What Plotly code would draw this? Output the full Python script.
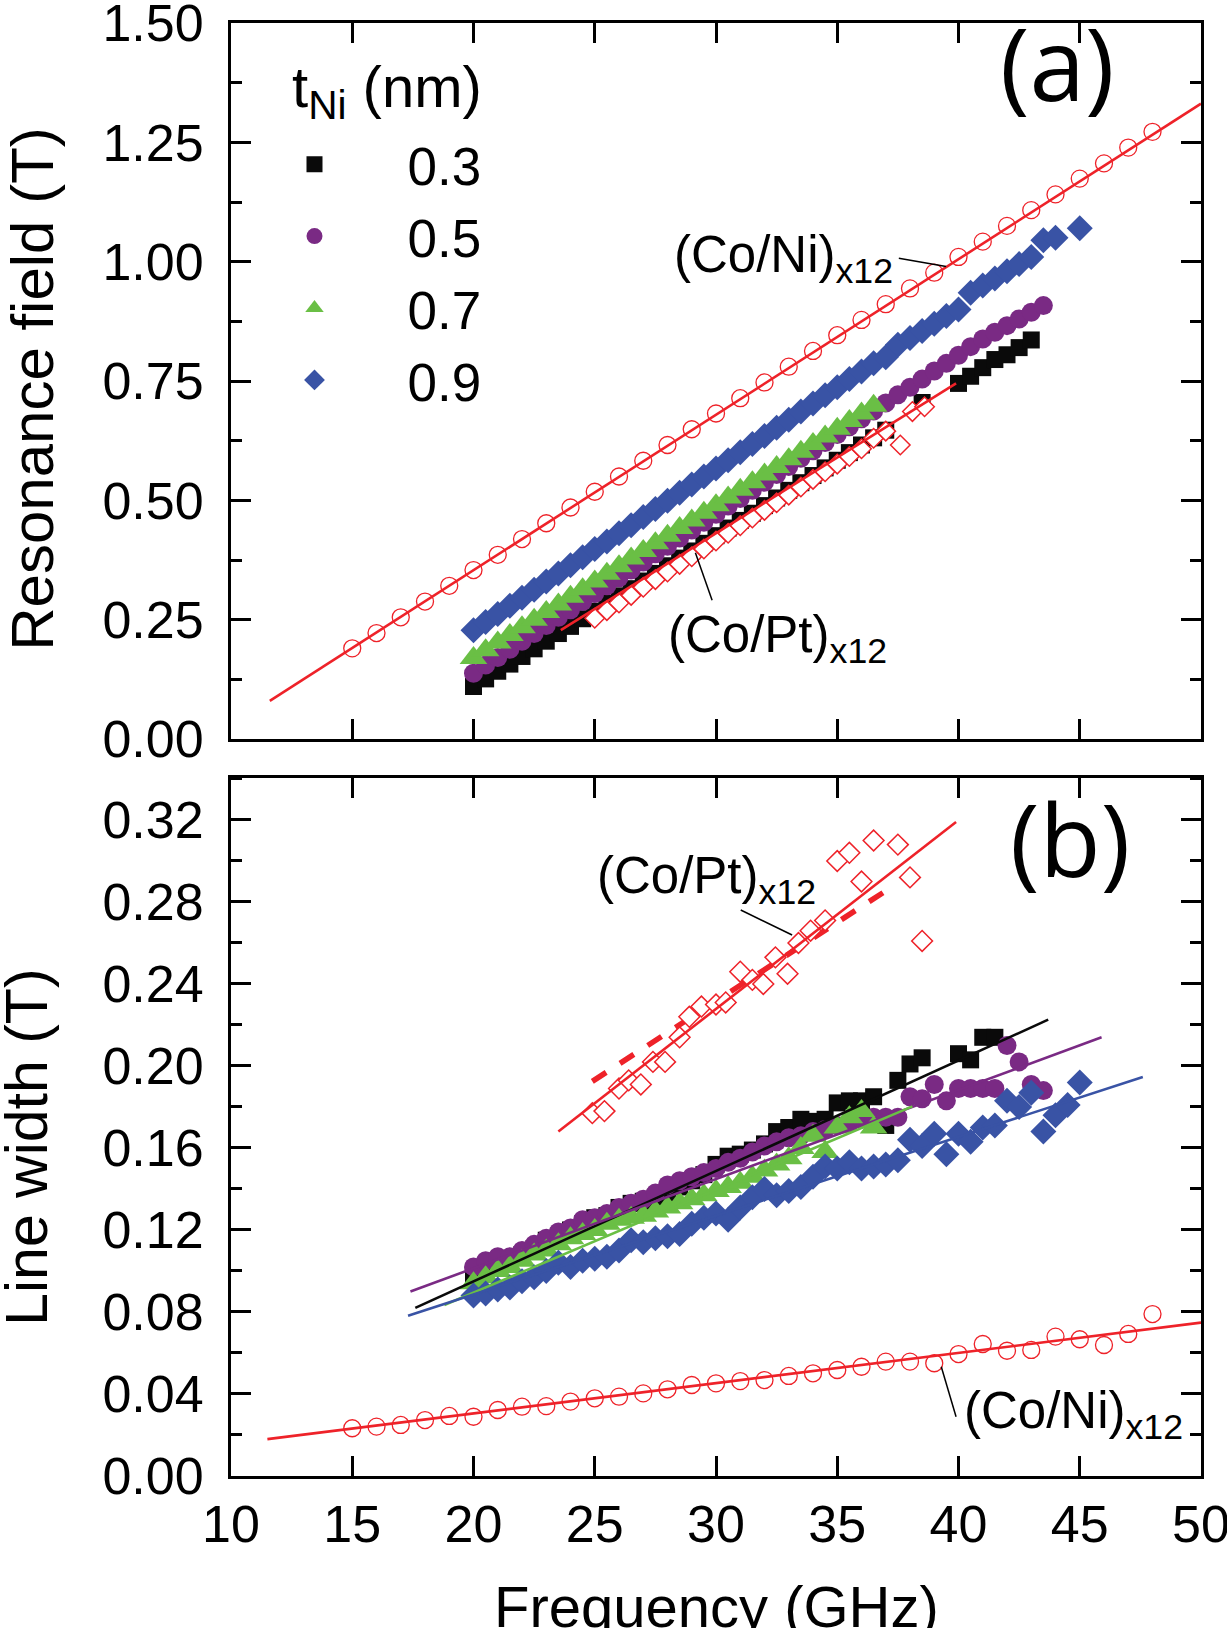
import plotly.graph_objects as go

# ---------------- shared frequency grid (GHz) ----------------
freq = [20.0, 20.5, 21.0, 21.5, 22.0, 22.5, 23.0, 23.5, 24.0, 24.5,
        25.0, 25.5, 26.0, 26.5, 27.0, 27.5, 28.0, 28.5, 29.0, 29.5,
        30.0, 30.5, 31.0, 31.5, 32.0, 32.5, 33.0, 33.5, 34.0, 34.5,
        35.0, 35.5, 36.0, 36.5, 37.0, 37.5, 38.0, 38.5, 39.0, 39.5,
        40.0, 40.5, 41.0, 41.5, 42.0, 42.5, 43.0, 43.5]
freq_coni = [15, 16, 17, 18, 19, 20, 21, 22, 23, 24, 25, 26, 27, 28, 29, 30, 31,
             32, 33, 34, 35, 36, 37, 38, 39, 40, 41, 42, 43, 44, 45, 46, 47, 48]

# ---------------- panel (a): resonance field (T) ----------------
f_black_a = freq[:35] + [38.5, 40.0, 40.5, 41.0, 41.5, 42.0, 42.5, 43.0]
B_black = [0.110, 0.126, 0.142, 0.157, 0.173, 0.189, 0.205, 0.221, 0.236, 0.252,
           0.268, 0.284, 0.300, 0.315, 0.331, 0.347, 0.363, 0.379, 0.394, 0.410,
           0.426, 0.442, 0.458, 0.473, 0.489, 0.505, 0.521, 0.537, 0.552, 0.568,
           0.584, 0.600, 0.616, 0.631, 0.647, 0.705, 0.745, 0.760, 0.778, 0.795,
           0.805, 0.820, 0.836]
f_purple_a = freq
B_purple = [0.138, 0.155, 0.171, 0.188, 0.205, 0.221, 0.238, 0.255, 0.271, 0.288,
            0.305, 0.321, 0.338, 0.354, 0.371, 0.388, 0.404, 0.421, 0.438, 0.454,
            0.471, 0.488, 0.504, 0.521, 0.538, 0.554, 0.571, 0.588, 0.604, 0.621,
            0.638, 0.654, 0.671, 0.687, 0.704, 0.721, 0.737, 0.754, 0.771, 0.787,
            0.804, 0.822, 0.838, 0.852, 0.866, 0.880, 0.894, 0.908]
f_green_a = freq[:34]
B_green = [0.170, 0.186, 0.202, 0.218, 0.234, 0.250, 0.266, 0.282, 0.298, 0.314,
           0.330, 0.346, 0.362, 0.378, 0.394, 0.410, 0.426, 0.442, 0.458, 0.474,
           0.490, 0.506, 0.522, 0.538, 0.554, 0.570, 0.586, 0.602, 0.618, 0.634,
           0.650, 0.666, 0.682, 0.698]
f_blue_a = freq + [44.0, 45.0]
B_blue = [0.228, 0.245, 0.262, 0.279, 0.296, 0.313, 0.330, 0.347, 0.364, 0.381,
          0.398, 0.414, 0.431, 0.448, 0.465, 0.482, 0.499, 0.516, 0.533, 0.550,
          0.567, 0.584, 0.601, 0.618, 0.635, 0.652, 0.669, 0.686, 0.703, 0.720,
          0.737, 0.754, 0.770, 0.787, 0.800, 0.826, 0.840, 0.855, 0.870, 0.886,
          0.900, 0.935, 0.950, 0.965, 0.980, 0.995, 1.010, 1.045, 1.050, 1.070]
f_copt_a = freq[10:35] + [37.6, 38.1, 38.6]
B_copt = [0.253, 0.269, 0.285, 0.301, 0.318, 0.334, 0.350, 0.366, 0.382, 0.398,
          0.415, 0.431, 0.447, 0.463, 0.479, 0.495, 0.511, 0.528, 0.544, 0.560,
          0.576, 0.592, 0.608, 0.630, 0.645, 0.616, 0.686, 0.696]
B_coni = [0.190, 0.222, 0.255, 0.288, 0.321, 0.354, 0.386, 0.419, 0.452, 0.485,
          0.518, 0.550, 0.583, 0.616, 0.649, 0.682, 0.714, 0.747, 0.780, 0.813,
          0.846, 0.878, 0.911, 0.944, 0.977, 1.010, 1.042, 1.075, 1.108, 1.141,
          1.174, 1.206, 1.239, 1.272]
fit_coni_a_f = [11.6, 50.0]
fit_coni_a_B = [0.080, 1.331]
fit_copt_a_f = [23.6, 39.9]
fit_copt_a_B = [0.228, 0.745]

# ---------------- panel (b): line width (T) ----------------
f_black_b = freq[:38] + [40.0, 40.5, 41.0, 41.5]
W_black = [0.097, 0.099, 0.102, 0.106, 0.108, 0.111, 0.115, 0.117, 0.120, 0.123,
           0.126, 0.127, 0.131, 0.133, 0.134, 0.136, 0.138, 0.141, 0.144, 0.147,
           0.152, 0.156, 0.157, 0.159, 0.162, 0.168, 0.170, 0.174, 0.173, 0.174,
           0.182, 0.183, 0.183, 0.185, 0.171, 0.193, 0.201, 0.204,
           0.206, 0.203, 0.214, 0.214]
f_purple_b = freq
W_purple = [0.102, 0.105, 0.107, 0.107, 0.110, 0.113, 0.116, 0.119, 0.121, 0.125,
            0.126, 0.128, 0.131, 0.133, 0.135, 0.138, 0.142, 0.144, 0.146, 0.148,
            0.150, 0.153, 0.155, 0.158, 0.161, 0.163, 0.165, 0.166, 0.168, 0.169,
            0.171, 0.172, 0.174, 0.175, 0.175, 0.175, 0.185, 0.184, 0.191, 0.183,
            0.189, 0.189, 0.189, 0.189, 0.210, 0.202, 0.191, 0.188]
f_green_b = freq[:34]
W_green = [0.094, 0.097, 0.100, 0.102, 0.105, 0.108, 0.110, 0.113, 0.116, 0.118,
           0.120, 0.123, 0.125, 0.126, 0.127, 0.129, 0.131, 0.133, 0.135, 0.137,
           0.139, 0.141, 0.143, 0.146, 0.149, 0.152, 0.155, 0.160, 0.166, 0.158,
           0.170, 0.175, 0.178, 0.170]
f_blue_b = freq + [44.0, 44.5, 45.0]
W_blue = [0.088, 0.089, 0.091, 0.092, 0.095, 0.097, 0.100, 0.104, 0.102, 0.105,
          0.106, 0.107, 0.110, 0.115, 0.114, 0.116, 0.117, 0.118, 0.123, 0.126,
          0.128, 0.125, 0.131, 0.136, 0.140, 0.137, 0.139, 0.141, 0.146, 0.151,
          0.150, 0.153, 0.150, 0.151, 0.152, 0.154, 0.164, 0.161, 0.167, 0.157,
          0.167, 0.163, 0.170, 0.171, 0.183, 0.180, 0.187, 0.168, 0.176, 0.181,
          0.192]
f_copt_b = [24.9, 25.4, 26.0, 26.4, 26.9, 27.4, 27.9, 28.5, 28.9, 29.4, 30.0, 30.4,
            31.0, 31.5, 31.95, 32.45, 32.95, 33.4, 33.9, 34.5, 35.0, 35.5, 36.0,
            36.5, 37.5, 38.0, 38.5]
W_copt = [0.177, 0.178, 0.189, 0.193, 0.191, 0.202, 0.202, 0.214, 0.224, 0.229,
          0.230, 0.231, 0.246, 0.242, 0.240, 0.253, 0.245, 0.260, 0.266, 0.271,
          0.300, 0.304, 0.290, 0.310, 0.308, 0.292, 0.261]
W_coni = [0.0233, 0.0241, 0.0249, 0.0273, 0.0293, 0.0289, 0.0322, 0.0338, 0.0341,
          0.0363, 0.0379, 0.0387, 0.0403, 0.0423, 0.0444, 0.0452, 0.0463, 0.0468,
          0.0488, 0.0501, 0.0517, 0.0533, 0.0558, 0.0558, 0.0550, 0.0595, 0.0644,
          0.0611, 0.0615, 0.0680, 0.0667, 0.0639, 0.0693, 0.0790]
fit_black_f, fit_black_W = [17.6, 43.7], [0.082, 0.2226]
fit_purple_f, fit_purple_W = [17.4, 45.9], [0.090, 0.214]
fit_green_f, fit_green_W = [18.8, 38.1], [0.0834, 0.1803]
fit_blue_f, fit_blue_W = [17.3, 47.6], [0.0782, 0.1946]
fit_coni_b_f, fit_coni_b_W = [11.5, 50.0], [0.018, 0.0748]
fit_copt_b_f, fit_copt_b_W = [23.5, 39.9], [0.168, 0.319]
dash_copt_b_f, dash_copt_b_W = [24.9, 37.4], [0.1925, 0.2885]

x_ticks = [10, 15, 20, 25, 30, 35, 40, 45, 50]
legend_names = ["0.3", "0.5", "0.7", "0.9"]

# ---------------- styling ----------------
BLACK = "#0a0a0a"
PURPLE = "#7a2a84"
GREEN = "#6abf45"
BLUE = "#3953a5"
RED = "#ee2229"
FONT = "Liberation Sans, Arial, sans-serif"

fig = go.Figure()

def mk(x, y, xa, ya, color, symbol, size, name=None, legend=False, lw=0, lc=None):
    fig.add_trace(go.Scatter(
        x=x, y=y, xaxis=xa, yaxis=ya, mode="markers", name=name or "",
        showlegend=legend,
        marker=dict(color=color, symbol=symbol, size=size,
                    line=dict(width=lw, color=lc or color))))

def ln(x, y, xa, ya, color, width, dash="solid"):
    fig.add_trace(go.Scatter(x=x, y=y, xaxis=xa, yaxis=ya, mode="lines",
                             showlegend=False, hoverinfo="skip",
                             line=dict(color=color, width=width, dash=dash)))

# panel (a)
mk(f_black_a, B_black, "x", "y", BLACK, "square", 17, legend_names[0], True)
mk(f_purple_a, B_purple, "x", "y", PURPLE, "circle", 19, legend_names[1], True)
mk(f_green_a, B_green, "x", "y", GREEN, "triangle-up", 24, legend_names[2], True)
mk(f_blue_a, B_blue, "x", "y", BLUE, "diamond", 20, legend_names[3], True)
mk(f_copt_a, B_copt, "x", "y", "white", "diamond", 15, lw=1.5, lc=RED)
mk(freq_coni, B_coni, "x", "y", RED, "circle-open", 17, lw=1.3)
ln(fit_coni_a_f, fit_coni_a_B, "x", "y", RED, 2.6)
ln(fit_copt_a_f, fit_copt_a_B, "x", "y", RED, 2.6)

# panel (b)
ln(dash_copt_b_f, dash_copt_b_W, "x2", "y2", RED, 5.5, "dash")
mk(f_black_b, W_black, "x2", "y2", BLACK, "square", 17)
mk(f_purple_b, W_purple, "x2", "y2", PURPLE, "circle", 19)
mk(f_green_b, W_green, "x2", "y2", GREEN, "triangle-up", 24)
mk(f_blue_b, W_blue, "x2", "y2", BLUE, "diamond", 20)
mk(f_copt_b, W_copt, "x2", "y2", "white", "diamond", 16, lw=1.5, lc=RED)
mk(freq_coni, W_coni, "x2", "y2", RED, "circle-open", 17, lw=1.3)
ln(fit_black_f, fit_black_W, "x2", "y2", BLACK, 2.6)
ln(fit_purple_f, fit_purple_W, "x2", "y2", PURPLE, 2.6)
ln(fit_green_f, fit_green_W, "x2", "y2", GREEN, 2.6)
ln(fit_blue_f, fit_blue_W, "x2", "y2", BLUE, 2.6)
ln(fit_coni_b_f, fit_coni_b_W, "x2", "y2", RED, 2.6)
ln(fit_copt_b_f, fit_copt_b_W, "x2", "y2", RED, 2.6)

axis_common = dict(showline=True, linewidth=3, linecolor="black", mirror="ticks",
                   ticks="inside", tickwidth=3, tickcolor="black", showgrid=False,
                   zeroline=False, automargin=False, ticklabeloverflow="allow",
                   tickfont=dict(family=FONT, size=52, color="black"))

fig.update_layout(
    width=1227, height=1628,
    margin=dict(l=230.5, r=26, t=23, b=152, autoexpand=False),
    paper_bgcolor="white", plot_bgcolor="white",
    font=dict(family=FONT, color="black"),
    xaxis=dict(axis_common, range=[9.9999, 50.0001], tickvals=x_ticks, ticklen=20,
               showticklabels=False, anchor="y", matches="x2"),
    yaxis=dict(axis_common, range=[0, 1.50001], dtick=0.25, tick0=0, tickformat=".2f",
               ticklen=20, domain=[0.5072, 1.0], anchor="x", ticklabelstandoff=14,
               minor=dict(dtick=0.125, ticklen=11, tickwidth=3, ticks="inside",
                          tickcolor="black")),
    xaxis2=dict(axis_common, range=[9.9999, 50.0001], tickvals=x_ticks, ticklen=20,
                anchor="y2", ticklabelstandoff=1),
    yaxis2=dict(axis_common, range=[0, 0.3405], dtick=0.04, tick0=0, tickformat=".2f",
                ticklen=20, domain=[0.0, 0.4804], anchor="x2", ticklabelstandoff=14,
                minor=dict(dtick=0.02, ticklen=11, tickwidth=3, ticks="inside",
                           tickcolor="black")),
    showlegend=True,
    legend=dict(x=-0.0098, y=0.931, xanchor="left", yanchor="top",
                bgcolor="rgba(0,0,0,0)", borderwidth=0, itemwidth=176,
                font=dict(family=FONT, size=53, color="black"),
                itemclick=False),
)

ann = []
# axis titles
ann.append(dict(text="Frequency (GHz)", xref="paper", yref="paper", x=0.5, y=-0.0898,
                xanchor="center", yanchor="middle", showarrow=False,
                font=dict(family=FONT, size=58)))
ann.append(dict(text="Resonance field (T)", xref="paper", yref="paper", x=-0.2045, y=0.748,
                xanchor="center", yanchor="middle", textangle=-90, showarrow=False,
                font=dict(family=FONT, size=60)))
ann.append(dict(text="Line width (T)", xref="paper", yref="paper", x=-0.2105, y=0.2264,
                xanchor="center", yanchor="middle", textangle=-90, showarrow=False,
                font=dict(family=FONT, size=59)))
# legend title
ann.append(dict(text="t<sub>Ni</sub> (nm)", xref="paper", yref="paper", x=0.061, y=0.9534,
                xanchor="left", yanchor="middle", showarrow=False,
                font=dict(family=FONT, size=58)))
# panel labels
ann.append(dict(text="(a)", xref="x", yref="y", x=44.1, y=1.418, xanchor="center",
                yanchor="middle", showarrow=False, font=dict(family="Open Sans", size=100)))
ann.append(dict(text="(b)", xref="x2", yref="y2", x=44.6, y=0.311, xanchor="center",
                yanchor="middle", showarrow=False, font=dict(family="Open Sans", size=100)))
# sample labels
lab_font = dict(family=FONT, size=51, color="black")
ann.append(dict(text="(Co/Ni)<sub>x12</sub>", xref="x", yref="y", x=28.18, y=1.007,
                xanchor="left", yanchor="middle", showarrow=False, font=lab_font))
ann.append(dict(text="(Co/Pt)<sub>x12</sub>", xref="x", yref="y", x=27.94, y=0.2096,
                xanchor="left", yanchor="middle", showarrow=False, font=lab_font))
ann.append(dict(text="(Co/Pt)<sub>x12</sub>", xref="x2", yref="y2", x=24.99, y=0.291,
                xanchor="left", yanchor="middle", showarrow=False, font=lab_font))
ann.append(dict(text="(Co/Ni)<sub>x12</sub>", xref="x2", yref="y2", x=40.13, y=0.030,
                xanchor="left", yanchor="middle", showarrow=False, font=lab_font))
fig.update_layout(annotations=ann)

# leader lines for the sample labels
leaders = [("x", "y", 37.54, 1.007, 39.49, 0.990),
           ("x", "y", 29.15, 0.390, 29.84, 0.291),
           ("x2", "y2", 31.02, 0.2761, 33.14, 0.2639),
           ("x2", "y2", 39.29, 0.0533, 39.90, 0.0289)]
for xr, yr, xa0, ya0, xa1, ya1 in leaders:
    fig.add_shape(type="line", xref=xr, yref=yr, x0=xa0, y0=ya0, x1=xa1, y1=ya1,
                  line=dict(color="black", width=1.5))

fig.write_html("out.html", config={"displayModeBar": False},
               post_script="document.body.style.margin='0px';")
